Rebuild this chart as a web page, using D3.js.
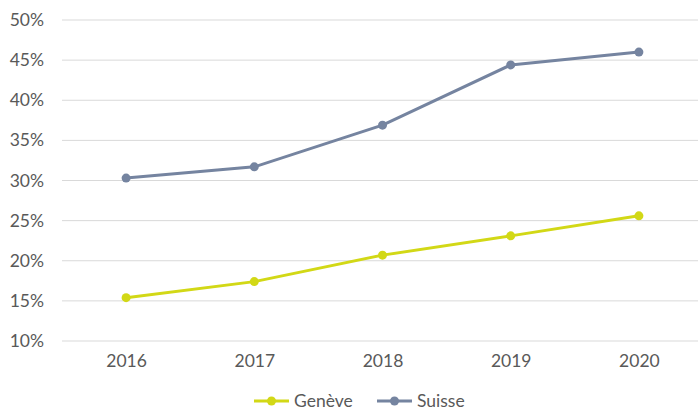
<!DOCTYPE html>
<html>
<head>
<meta charset="utf-8">
<script src="https://cdn.jsdelivr.net/npm/d3@7"></script>
<style>
  html, body { margin: 0; padding: 0; background: #fff; }
  svg { display: block; font-family: Lato, "Open Sans", sans-serif; }
</style>
</head>
<body>
<svg id="chart" width="698" height="412"></svg>
<script>
const years = ["2016", "2017", "2018", "2019", "2020"];
const geneve = [15.4, 17.4, 20.7, 23.1, 25.6];
const suisse = [30.3, 31.7, 36.9, 44.4, 46.0];
const yTicks = [10, 15, 20, 25, 30, 35, 40, 45, 50];

const series = [
  { name: "Genève", values: geneve, color: "#d2d816" },
  { name: "Suisse", values: suisse, color: "#7584a0" }
];

const svg = d3.select("#chart");
const W = 698, H = 412;
const plot = { left: 62, right: 698, top: 20, bottom: 341 };

// categories spread a bit past the right edge of the plot frame
const x = d3.scalePoint().domain(years).range([plot.left, 703]).padding(0.5);
const y = d3.scaleLinear().domain([10, 50]).range([plot.bottom, plot.top]);

const labelFont = 17.5;
const labelColor = "#595959";

// horizontal grid
svg.append("g")
  .selectAll("line")
  .data(yTicks)
  .join("line")
  .attr("x1", plot.left)
  .attr("x2", plot.right)
  .attr("y1", d => y(d))
  .attr("y2", d => y(d))
  .attr("stroke", "#d9d9d9")
  .attr("stroke-width", 1);

// y axis labels
const yAxis = svg.append("g")
  .attr("transform", `translate(${plot.left},0)`)
  .call(d3.axisLeft(y).tickValues(yTicks).tickFormat(d => d + "%").tickSize(0).tickPadding(18));
yAxis.select(".domain").remove();
yAxis.selectAll("text")
  .attr("font-family", "Lato, sans-serif")
  .attr("font-size", labelFont)
  .attr("fill", labelColor);

// x axis labels
const xAxis = svg.append("g")
  .attr("transform", `translate(0,${plot.bottom})`)
  .call(d3.axisBottom(x).tickSize(0).tickPadding(14));
xAxis.select(".domain").remove();
xAxis.selectAll("text")
  .attr("font-family", "Lato, sans-serif")
  .attr("font-size", labelFont)
  .attr("fill", labelColor);

const line = d3.line()
  .x((d, i) => x(years[i]))
  .y(d => y(d));

series.forEach(s => {
  svg.append("path")
    .datum(s.values)
    .attr("fill", "none")
    .attr("stroke", s.color)
    .attr("stroke-width", 3)
    .attr("stroke-linejoin", "round")
    .attr("d", line);
  svg.append("g")
    .selectAll("circle")
    .data(s.values)
    .join("circle")
    .attr("cx", (d, i) => x(years[i]))
    .attr("cy", d => y(d))
    .attr("r", 4.5)
    .attr("fill", s.color);
});

// legend
const legendY = 401;
const legendItems = [
  { s: series[0], x0: 254 },
  { s: series[1], x0: 377 }
];
legendItems.forEach(({ s, x0 }) => {
  const g = svg.append("g");
  g.append("line")
    .attr("x1", x0).attr("x2", x0 + 35)
    .attr("y1", legendY).attr("y2", legendY)
    .attr("stroke", s.color).attr("stroke-width", 3);
  g.append("circle")
    .attr("cx", x0 + 17.5).attr("cy", legendY).attr("r", 4.5)
    .attr("fill", s.color);
  g.append("text")
    .attr("x", x0 + 40).attr("y", legendY)
    .attr("dy", "0.35em")
    .attr("font-family", "Lato, sans-serif")
    .attr("font-size", labelFont)
    .attr("fill", labelColor)
    .text(s.name);
});
</script>
</body>
</html>
